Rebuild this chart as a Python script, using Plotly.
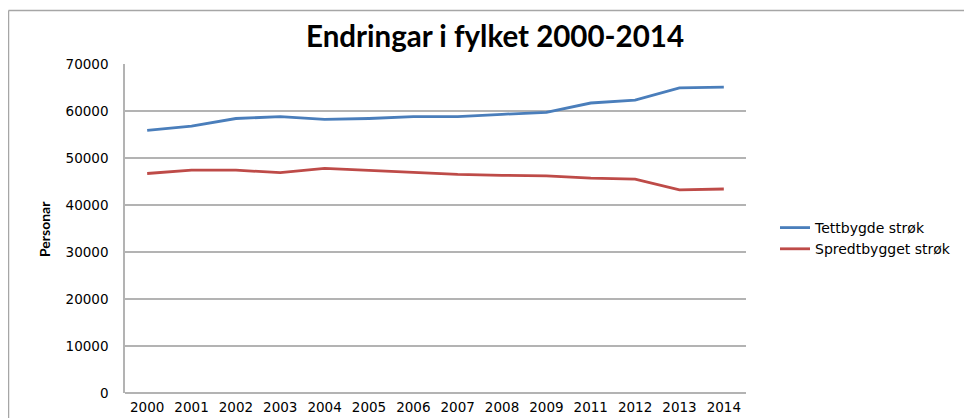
import plotly.graph_objects as go

years = ["2000", "2001", "2002", "2003", "2004", "2005", "2006",
         "2007", "2008", "2009", "2011", "2012", "2013", "2014"]
tettbygde = [55900, 56800, 58400, 58800, 58200, 58400, 58800,
             58800, 59300, 59700, 61700, 62300, 64900, 65100]
spredtbygget = [46700, 47400, 47400, 46900, 47800, 47400, 46900,
                46500, 46300, 46200, 45700, 45500, 43200, 43400]
y_ticks = [0, 10000, 20000, 30000, 40000, 50000, 60000, 70000]

# page body has an 8px margin, so the figure is drawn 8px smaller/offset
OFF = 8
W, H = 972 - OFF, 418 - OFF
L, R, T, B = 125 - OFF, 226, 64 - OFF, 25
pw, ph = W - L - R, H - T - B


def px_x(x):
    return (x - OFF - L) / pw


def px_y(y):
    return (H - B - (y - OFF)) / ph


fig = go.Figure()
fig.add_trace(go.Scatter(x=years, y=tettbygde, mode="lines", name="Tettbygde strøk",
                         line=dict(color="#4a7ebb", width=2.8)))
fig.add_trace(go.Scatter(x=years, y=spredtbygget, mode="lines", name="Spredtbygget strøk",
                         line=dict(color="#be4b48", width=2.8)))

# outer chart frame (cut off at right/bottom like the screenshot)
fx0 = px_x(8.5)
fy1 = px_y(10.5)
fig.add_shape(type="line", xref="paper", yref="paper", x0=fx0, x1=fx0, y0=-0.3, y1=fy1,
              line=dict(color="#a6a6a6", width=1.5))
fig.add_shape(type="line", xref="paper", yref="paper", x0=fx0, x1=px_x(990), y0=fy1, y1=fy1,
              line=dict(color="#a6a6a6", width=1.5))

fig.add_annotation(text="<b>Endringar i fylket 2000-2014</b>", xref="paper", yref="paper",
                   x=px_x(495), y=px_y(35), xanchor="center", yanchor="middle", showarrow=False,
                   font=dict(family="Lato", size=29.5, color="black"))
fig.add_annotation(text="<b>Personar</b>", xref="paper", yref="paper",
                   x=px_x(44), y=px_y(229), xanchor="center", yanchor="middle", showarrow=False,
                   textangle=-90, font=dict(family="Lato", size=14, color="black"))

fig.update_layout(
    width=W, height=H,
    margin=dict(l=L, r=R, t=T, b=B, autoexpand=False),
    plot_bgcolor="white", paper_bgcolor="white",
    font=dict(family="DejaVu Sans", size=13.5, color="black"),
    showlegend=True,
    legend=dict(x=px_x(775), y=px_y(212), xanchor="left", yanchor="top",
                font=dict(family="DejaVu Sans", size=14), tracegroupgap=2,
                bgcolor="rgba(0,0,0,0)"),
    xaxis=dict(type="category", range=[-0.5, 13.5], showgrid=False, showline=False,
               ticks="", zeroline=False, automargin=False, ticklabelstandoff=4),
    yaxis=dict(range=[0, 70000], tickvals=y_ticks, tickformat="d", showgrid=True,
               gridcolor="#b3b3b3", gridwidth=1.5, showline=True, linecolor="#b3b3b3",
               linewidth=1.5, zeroline=True, zerolinecolor="#b3b3b3", zerolinewidth=1.5,
               ticks="", ticklabelstandoff=12, automargin=False),
)

fig.write_html("out.html")
